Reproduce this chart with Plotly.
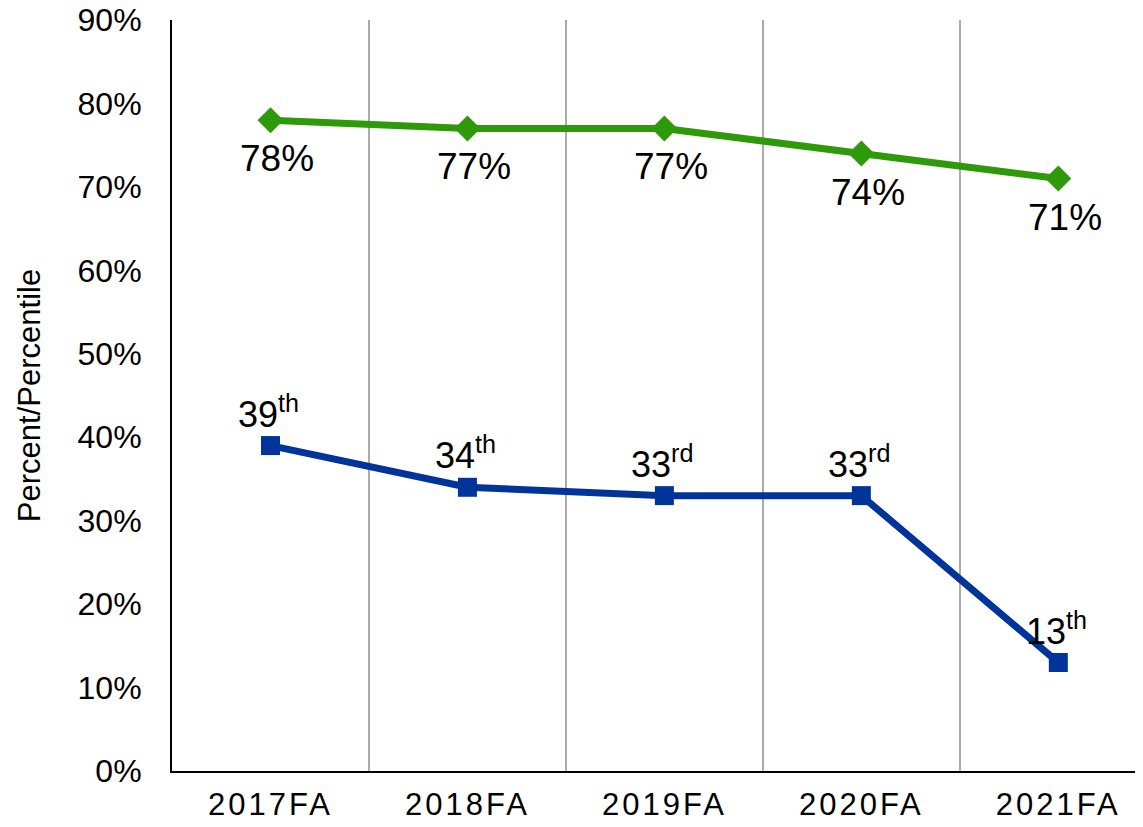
import plotly.graph_objects as go

categories = ["2017FA", "2018FA", "2019FA", "2020FA", "2021FA"]
pct_values = [0.78, 0.77, 0.77, 0.74, 0.71]
pct_labels = ["78%", "77%", "77%", "74%", "71%"]
percentile_values = [0.39, 0.34, 0.33, 0.33, 0.13]
percentile_labels = ["39<sup>th</sup>", "34<sup>th</sup>", "33<sup>rd</sup>",
                     "33<sup>rd</sup>", "13<sup>th</sup>"]
y_ticks = [0, 0.1, 0.2, 0.3, 0.4, 0.5, 0.6, 0.7, 0.8, 0.9]

FONT = "Arial, Liberation Sans, sans-serif"
GREEN = "#2E9A0A"
BLUE = "#00349A"

fig = go.Figure()
fig.add_trace(go.Scatter(
    x=categories, y=pct_values, mode="lines+markers",
    line=dict(color=GREEN, width=7),
    marker=dict(symbol="diamond", size=20, color=GREEN),
    cliponaxis=False, showlegend=False, hoverinfo="skip",
))
fig.add_trace(go.Scatter(
    x=categories, y=percentile_values, mode="lines+markers",
    line=dict(color=BLUE, width=7),
    marker=dict(symbol="square", size=19, color=BLUE),
    cliponaxis=False, showlegend=False, hoverinfo="skip",
))

for c, v, t in zip(categories, pct_values, pct_labels):
    fig.add_annotation(x=c, y=v, text=t, showarrow=False,
                       xanchor="center", yanchor="top", xshift=7, yshift=-16,
                       font=dict(family=FONT, size=37, color="#000000"))
for c, v, t in zip(categories, percentile_values, percentile_labels):
    fig.add_annotation(x=c, y=v, text=t, showarrow=False,
                       xanchor="center", yanchor="bottom", xshift=-2, yshift=9,
                       font=dict(family=FONT, size=36, color="#000000"))

x_ticktext = ['<span style="letter-spacing:3px">%s</span>' % c for c in categories]

fig.update_layout(
    width=1135, height=819, autosize=False,
    margin=dict(l=164, r=0, t=12, b=56),
    paper_bgcolor="white", plot_bgcolor="white",
    font=dict(family=FONT, color="#000000"),
    xaxis=dict(
        type="category", tickson="boundaries", range=[-0.5, 4.43],
        tickvals=categories, ticktext=x_ticktext,
        showgrid=True, gridcolor="#ABABAB", gridwidth=2,
        showline=True, linecolor="#000000", linewidth=2,
        ticks="", tickfont=dict(family=FONT, size=31, color="#000000"),
        ticklabelstandoff=5, zeroline=False, automargin=False,
    ),
    yaxis=dict(
        range=[0, 0.9], tickvals=y_ticks, tickformat=".0%",
        showgrid=False, zeroline=False,
        showline=True, linecolor="#000000", linewidth=2,
        ticks="", tickfont=dict(family=FONT, size=32, color="#000000"),
        ticklabelstandoff=22, ticklabeloverflow="allow", automargin=False,
        title=dict(text="Percent/Percentile", standoff=28,
                   font=dict(family=FONT, size=31, color="#000000")),
    ),
)

fig.write_html("out.html")
